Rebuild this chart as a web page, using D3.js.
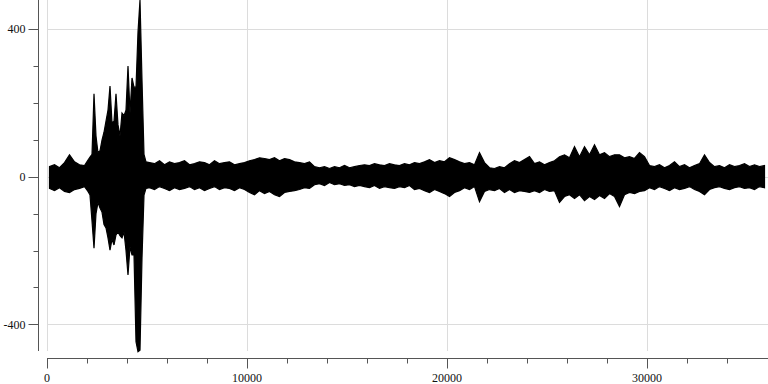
<!DOCTYPE html>
<html>
<head>
<meta charset="utf-8">
<script src="https://cdn.jsdelivr.net/npm/d3@7"></script>
<style>
  html, body { margin: 0; padding: 0; background: #fff; }
  svg { display: block; }
</style>
</head>
<body>
<svg id="chart" width="768" height="384"></svg>
<script>
// Envelope of the trace (per-window max / min).
// Before the burst: samples 0-2000, windows of 250 samples
const preStart = 0, preStep = 250;
const preMax = [27, 32, 24, 38, 59, 40, 32, 30];
const preMin = [-32, -38, -30, -40, -43, -35, -32, -27];
// The burst: samples 2000-5000, windows of 100 samples
const burstStart = 2000, burstStep = 100;
const burstMax = [45, 53, 60, 224, 110, 64, 70, 99, 120, 150, 180, 245, 145, 150, 224,
  140, 110, 172, 165, 180, 299, 172, 267, 242, 242, 391, 478, 261, 60, 40];
const burstMin = [-40, -50, -120, -194, -100, -70, -85, -96, -130, -139, -166, -199, -170, -185, -158,
  -150, -160, -166, -150, -200, -266, -190, -212, -212, -447, -474, -470, -220, -50, -32];
// After the burst: samples 5000-36000, windows of 250 samples
const postStart = 5000, postStep = 250;
const postMax = [
  38, 35, 43, 32, 40, 35, 38, 43, 32, 35, 40, 38, 32, 43, 35, 38, 40, 32, 35, 38,
  43, 46, 51, 49, 46, 51, 43, 49, 46, 40,
  38, 35, 40,
  27, 24, 27, 22, 27, 24, 30, 24, 27, 30,
  32, 30, 35, 32, 30, 35, 32, 30, 35, 32, 38, 35,
  40, 46, 38, 43, 40, 51, 46, 40,
  35, 38, 32,
  65, 38,
  24, 22, 27, 24,
  35, 43, 38, 46,
  54,
  35, 40, 32, 38, 43,
  54, 59, 51,
  81, 54, 81, 59, 86,
  59, 65, 54, 59,
  59,
  51, 54, 49,
  65, 54,
  30, 27, 32, 24, 30, 40, 27, 32, 24, 30, 35,
  59, 38,
  27, 30, 24, 32, 27, 30, 35, 27, 32, 27, 30];
const postMin = [
  -30, -35, -27, -32, -38, -30, -35, -32, -27, -35, -30, -38, -32, -27, -35, -30, -32, -38, -30, -35,
  -43, -49, -38, -46, -40, -49, -54, -43, -40, -38,
  -35, -30, -32,
  -22, -19, -24, -16, -22, -19, -24, -22, -27, -24,
  -27, -30, -24, -32, -27, -30, -32, -27, -30, -24, -35, -32,
  -38, -43, -35, -40, -46, -54, -43, -38,
  -30, -35, -27,
  -68, -40,
  -35, -38, -32, -43,
  -35, -43, -38, -40,
  -43,
  -38, -43, -35, -40, -38,
  -70, -54, -49,
  -59, -49, -65, -54, -62,
  -51, -59, -46, -54,
  -81,
  -49, -43, -46,
  -40, -38,
  -30, -35, -27, -32, -38, -30, -35, -32, -27, -35, -40,
  -49, -35,
  -30, -27, -32, -35, -30, -27, -32, -30, -35, -27, -30];

const xMajorTicks = [0, 10000, 20000, 30000];
const xMajorLabels = ["0", "10000", "20000", "30000"];
const xMinorTicks = [2000, 4000, 6000, 8000, 12000, 14000, 16000, 18000, 22000, 24000, 26000, 28000, 32000, 34000];
const yMajorTicks = [-400, 0, 400];
const yMajorLabels = ["-400", "0", "400"];
const yMinorTicks = [-300, -200, -100, 100, 200, 300];

function windows(start, step, hi, lo) {
  return hi.map((v, i) => ({ s: start + i * step + step / 2, hi: v, lo: lo[i] }));
}
const env = [].concat(
  windows(preStart, preStep, preMax, preMin),
  windows(burstStart, burstStep, burstMax, burstMin),
  windows(postStart, postStep, postMax, postMin)
);

const svg = d3.select("#chart");
const x = d3.scaleLinear().domain([0, 36000]).range([47, 767]);
const y = d3.scaleLinear().domain([-472, 478]).range([351, 0]);

const gridColor = "#dcdcdc";
const axisColor = "#555";
const font = "'Liberation Serif', serif";

// Grid
svg.append("g").selectAll("line").data(yMajorTicks).join("line")
  .attr("x1", x.range()[0]).attr("x2", 768)
  .attr("y1", d => Math.round(y(d)) + 0.5).attr("y2", d => Math.round(y(d)) + 0.5)
  .attr("stroke", gridColor).attr("stroke-width", 1);
svg.append("g").selectAll("line").data(xMajorTicks).join("line")
  .attr("x1", d => Math.round(x(d)) + 0.5).attr("x2", d => Math.round(x(d)) + 0.5)
  .attr("y1", 0).attr("y2", y.range()[0])
  .attr("stroke", gridColor).attr("stroke-width", 1);

// Trace envelope
svg.append("path")
  .datum(env)
  .attr("d", d3.area().x(d => x(d.s)).y0(d => y(d.lo)).y1(d => y(d.hi)))
  .attr("fill", "#000")
  .attr("stroke", "#000")
  .attr("stroke-width", 1.2)
  .attr("stroke-linejoin", "miter")
  .attr("stroke-miterlimit", 3);

// Y axis (separated)
const yAxisX = 38.5;
const gy = svg.append("g");
gy.append("line").attr("x1", yAxisX).attr("x2", yAxisX)
  .attr("y1", y.range()[1]).attr("y2", y.range()[0])
  .attr("stroke", axisColor);
gy.selectAll(".maj").data(yMajorTicks).join("line").attr("class", "maj")
  .attr("x1", yAxisX - 10).attr("x2", yAxisX)
  .attr("y1", d => Math.round(y(d)) + 0.5).attr("y2", d => Math.round(y(d)) + 0.5)
  .attr("stroke", axisColor);
gy.selectAll(".min").data(yMinorTicks).join("line").attr("class", "min")
  .attr("x1", yAxisX - 5).attr("x2", yAxisX)
  .attr("y1", d => Math.round(y(d)) + 0.5).attr("y2", d => Math.round(y(d)) + 0.5)
  .attr("stroke", axisColor);
gy.selectAll("text").data(yMajorTicks).join("text")
  .attr("x", yAxisX - 13).attr("y", d => y(d))
  .attr("dy", "0.35em")
  .attr("text-anchor", "end")
  .attr("font-family", font).attr("font-size", 12).attr("fill", "#111")
  .text((d, i) => yMajorLabels[i]);

// X axis (separated)
const xAxisY = 358.5;
const gx = svg.append("g");
gx.append("line").attr("x1", x.range()[0]).attr("x2", 768)
  .attr("y1", xAxisY).attr("y2", xAxisY)
  .attr("stroke", axisColor);
gx.selectAll(".maj").data(xMajorTicks).join("line").attr("class", "maj")
  .attr("x1", d => Math.round(x(d)) + 0.5).attr("x2", d => Math.round(x(d)) + 0.5)
  .attr("y1", xAxisY).attr("y2", xAxisY + 10)
  .attr("stroke", axisColor);
gx.selectAll(".min").data(xMinorTicks).join("line").attr("class", "min")
  .attr("x1", d => Math.round(x(d)) + 0.5).attr("x2", d => Math.round(x(d)) + 0.5)
  .attr("y1", xAxisY).attr("y2", xAxisY + 5)
  .attr("stroke", axisColor);
gx.selectAll("text").data(xMajorTicks).join("text")
  .attr("x", d => x(d)).attr("y", 382)
  .attr("text-anchor", "middle")
  .attr("font-family", font).attr("font-size", 12).attr("fill", "#111")
  .text((d, i) => xMajorLabels[i]);
</script>
</body>
</html>
